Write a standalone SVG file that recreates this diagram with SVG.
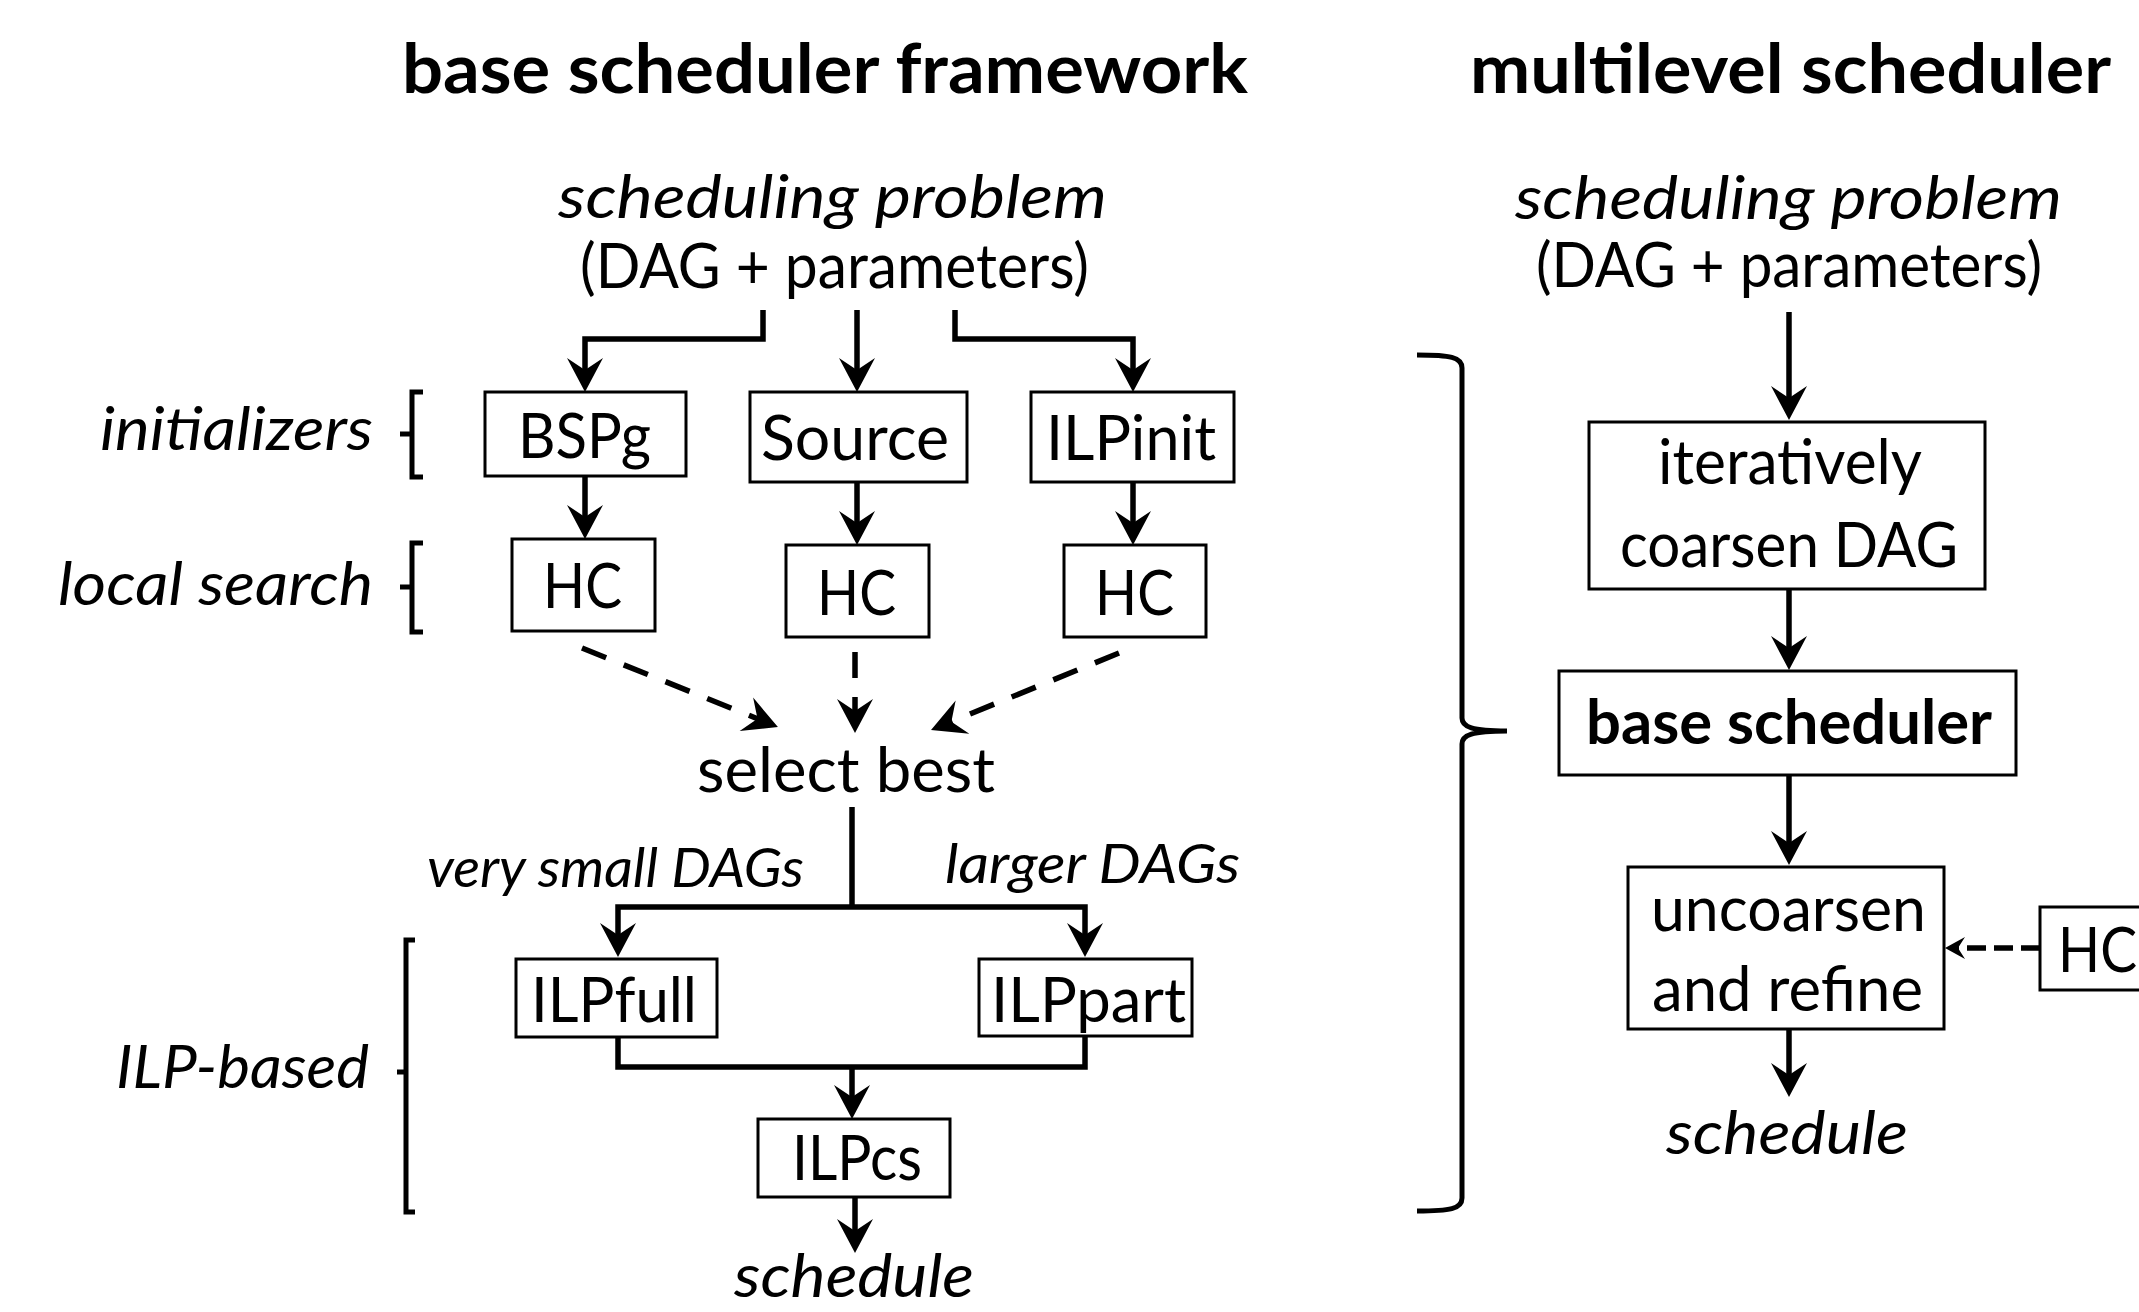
<svg xmlns="http://www.w3.org/2000/svg" width="2139" height="1312" viewBox="0 0 2139 1312">
<style>
text{font-family:Lato,"Open Sans","Liberation Sans",sans-serif;fill:#000}
.t{font-size:68px;font-weight:bold}
.n{font-size:61px}
.i{font-size:61px;font-style:italic}
.s{font-size:54px;font-style:italic}
.box{fill:#fff;stroke:#000;stroke-width:3}
.c{fill:none;stroke:#000;stroke-width:5.5}
.d{fill:none;stroke:#000;stroke-width:5.5;stroke-dasharray:26 19}
.b{fill:none;stroke:#000;stroke-width:5}
</style>
<defs>
<marker id="ah" markerUnits="userSpaceOnUse" markerWidth="60" markerHeight="60" refX="-15" refY="0" orient="auto" overflow="visible">
<path d="M0,0 L-34,-18 L-22,0 L-34,18 Z" fill="#000"/>
</marker>
<marker id="ahs" markerUnits="userSpaceOnUse" markerWidth="40" markerHeight="40" refX="-9" refY="0" orient="auto" overflow="visible">
<path d="M0,0 L-20,-11 L-13,0 L-20,11 Z" fill="#000"/>
</marker>
</defs>

<g id="titles">
<text class="t" x="402" y="93" textLength="846" lengthAdjust="spacingAndGlyphs">base scheduler framework</text>
<text class="t" x="1470" y="93" textLength="641" lengthAdjust="spacingAndGlyphs">multilevel scheduler</text>
</g>

<g id="labels">
<text class="i" x="100" y="450" textLength="273" lengthAdjust="spacingAndGlyphs">initializers</text>
<text class="i" x="58" y="605" textLength="315" lengthAdjust="spacingAndGlyphs">local search</text>
<text class="i" x="116" y="1088" textLength="253" lengthAdjust="spacingAndGlyphs">ILP-based</text>
<text class="s" x="427" y="887" textLength="377" lengthAdjust="spacingAndGlyphs">very small DAGs</text>
<text class="s" x="945" y="883" textLength="295" lengthAdjust="spacingAndGlyphs">larger DAGs</text>
</g>

<g id="braces">
<path class="b" d="M423,392 H412 V477 H423 M412,434 H400"/>
<path class="b" d="M423,543 H412 V632 H423 M412,587 H400"/>
<path class="b" d="M415,940 H406 V1212 H415 M406,1072 H397"/>
<path class="b" stroke-width="6" d="M1417,355 C1450,355 1462,357 1462,368 V718 C1462,727 1472,731 1507,731 C1472,731 1462,735 1462,744 V1198 C1462,1209 1450,1211 1417,1211"/>
</g>

<g id="problem-left">
<text class="i" x="558" y="218" textLength="549" lengthAdjust="spacingAndGlyphs">scheduling problem</text>
<text class="n" x="580" y="288" textLength="509" lengthAdjust="spacingAndGlyphs">(DAG + parameters)</text>
</g>

<g id="bspg"><rect class="box" x="485" y="392" width="201" height="84"/>
<text class="n" x="518" y="458" textLength="133" lengthAdjust="spacingAndGlyphs">BSPg</text></g>
<g id="source"><rect class="box" x="750" y="392" width="217" height="90"/>
<text class="n" x="761" y="460" textLength="188" lengthAdjust="spacingAndGlyphs">Source</text></g>
<g id="ilpinit"><rect class="box" x="1031" y="392" width="203" height="90"/>
<text class="n" x="1046" y="460" textLength="170" lengthAdjust="spacingAndGlyphs">ILPinit</text></g>

<g id="hc1"><rect class="box" x="512" y="539" width="143" height="92"/>
<text class="n" x="543" y="608" textLength="79" lengthAdjust="spacingAndGlyphs">HC</text></g>
<g id="hc2"><rect class="box" x="786" y="545" width="143" height="92"/>
<text class="n" x="817" y="615" textLength="79" lengthAdjust="spacingAndGlyphs">HC</text></g>
<g id="hc3"><rect class="box" x="1064" y="545" width="142" height="92"/>
<text class="n" x="1095" y="615" textLength="79" lengthAdjust="spacingAndGlyphs">HC</text></g>

<g id="select-best">
<text class="n" x="697" y="792" textLength="298" lengthAdjust="spacingAndGlyphs">select best</text></g>

<g id="ilpfull"><rect class="box" x="516" y="959" width="201" height="78"/>
<text class="n" x="531" y="1022" textLength="166" lengthAdjust="spacingAndGlyphs">ILPfull</text></g>
<g id="ilppart"><rect class="box" x="979" y="959" width="213" height="77"/>
<text class="n" x="991" y="1022" textLength="195" lengthAdjust="spacingAndGlyphs">ILPpart</text></g>
<g id="ilpcs"><rect class="box" x="758" y="1119" width="192" height="78"/>
<text class="n" x="792" y="1180" textLength="130" lengthAdjust="spacingAndGlyphs">ILPcs</text></g>

<g id="schedule-left">
<text class="i" x="734" y="1297" textLength="240" lengthAdjust="spacingAndGlyphs">schedule</text></g>

<g id="problem-right">
<text class="i" x="1515" y="219" textLength="547" lengthAdjust="spacingAndGlyphs">scheduling problem</text>
<text class="n" x="1536" y="287" textLength="506" lengthAdjust="spacingAndGlyphs">(DAG + parameters)</text>
</g>

<g id="coarsen"><rect class="box" x="1589" y="422" width="396" height="167"/>
<text class="n" x="1658" y="484" textLength="264" lengthAdjust="spacingAndGlyphs">iteratively</text>
<text class="n" x="1620" y="567" textLength="338" lengthAdjust="spacingAndGlyphs">coarsen DAG</text></g>

<g id="base-scheduler"><rect class="box" x="1559" y="671" width="457" height="104"/>
<text class="n" font-weight="bold" x="1586" y="744" textLength="406" lengthAdjust="spacingAndGlyphs">base scheduler</text></g>

<g id="uncoarsen"><rect class="box" x="1628" y="867" width="316" height="162"/>
<text class="n" x="1651" y="931" textLength="275" lengthAdjust="spacingAndGlyphs">uncoarsen</text>
<text class="n" x="1652" y="1011" textLength="271" lengthAdjust="spacingAndGlyphs">and refine</text></g>

<g id="hc-right"><rect class="box" x="2040" y="907" width="120" height="83"/>
<text class="n" x="2058" y="972" textLength="79" lengthAdjust="spacingAndGlyphs">HC</text></g>

<g id="schedule-right">
<text class="i" x="1666" y="1154" textLength="242" lengthAdjust="spacingAndGlyphs">schedule</text></g>

<g id="connectors">
<path class="c" d="M763,310 V339 H585 V377" marker-end="url(#ah)"/>
<path class="c" d="M857,310 V377" marker-end="url(#ah)"/>
<path class="c" d="M955,310 V339 H1133 V377" marker-end="url(#ah)"/>
<path class="c" d="M585,476 V524" marker-end="url(#ah)"/>
<path class="c" d="M857,482 V530" marker-end="url(#ah)"/>
<path class="c" d="M1133,482 V530" marker-end="url(#ah)"/>
<path class="d" d="M582,648 L764,721.4" marker-end="url(#ah)"/>
<path class="d" d="M855,652 V718" marker-end="url(#ah)"/>
<path class="d" d="M1119,653 L944.9,724.3" marker-end="url(#ah)"/>
<path class="c" d="M852,807 V907"/>
<path class="c" stroke-width="6" d="M852,907 H618 V942" marker-end="url(#ah)"/>
<path class="c" stroke-width="6" d="M852,907 H1085 V942" marker-end="url(#ah)"/>
<path class="c" stroke-width="6" d="M618,1037 V1067 H1085 V1036"/>
<path class="c" d="M852,1067 V1104" marker-end="url(#ah)"/>
<path class="c" d="M855,1197 V1238" marker-end="url(#ah)"/>
<path class="c" d="M1789,312 V405" marker-end="url(#ah)"/>
<path class="c" d="M1789,589 V655" marker-end="url(#ah)"/>
<path class="c" d="M1789,775 V850" marker-end="url(#ah)"/>
<path class="c" d="M1789,1029 V1082" marker-end="url(#ah)"/>
<path class="c" stroke-dasharray="19 8" d="M2040,948 H1954" marker-end="url(#ahs)"/>
</g>
</svg>
